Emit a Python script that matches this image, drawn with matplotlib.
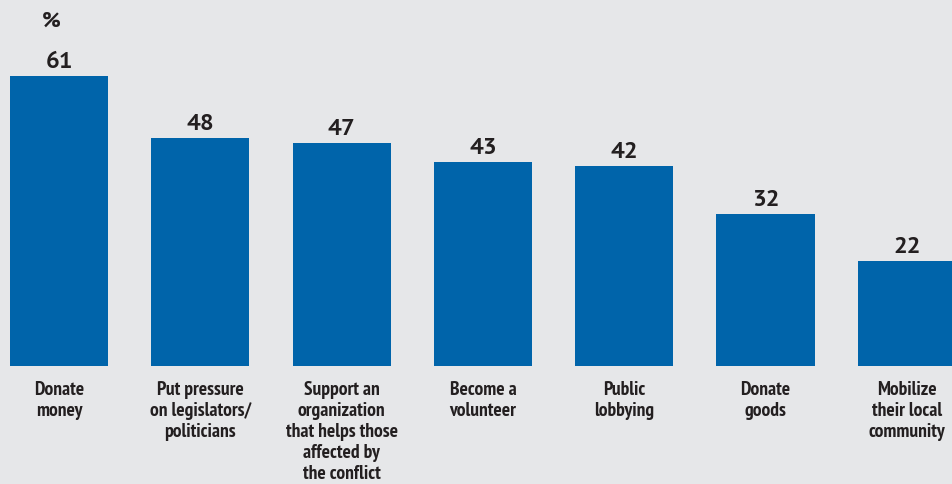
import matplotlib.pyplot as plt
import numpy as np

categories = [
    'Donate\nmoney',
    'Put pressure\non legislators/\npoliticians',
    'Support an\norganization\nthat helps those\naffected by\nthe conflict',
    'Become a\nvolunteer',
    'Public\nlobbying',
    'Donate\ngoods',
    'Mobilize\ntheir local\ncommunity',
]
values = [61, 48, 47, 43, 42, 32, 22]

bg = '#e6e7e9'
bar_color = '#0064aa'
ink = '#231f20'
num_font = ['PT Sans', 'DejaVu Sans']
cat_font = ['PT Sans Narrow', 'DejaVu Sans']

fig = plt.figure(figsize=(9.53, 4.84), dpi=100, facecolor=bg)
ax = fig.add_axes([0, 118 / 484, 1, 366 / 484])
ax.set_facecolor(bg)

x = np.arange(len(values))
ax.bar(x, values, width=0.694, color=bar_color)
ax.set_xlim(-0.4176, 6.327)
ax.set_ylim(0, 77.0)
ax.axis('off')

# value on top of each bar
for xi, v in zip(x, values):
    ax.annotate(str(v), (xi, v), xytext=(0, 5.8), textcoords='offset points',
                ha='center', va='baseline', fontsize=17.5, fontweight='bold',
                family=num_font, color=ink)

# category names under the bars
for xi, lab in zip(x, categories):
    ax.annotate(lab, (xi, 0), xytext=(0, -11), textcoords='offset points',
                ha='center', va='top', fontsize=14, fontweight='bold',
                family=cat_font, color=ink,
                linespacing=1.21, annotation_clip=False)

fig.text(51 / 953, 1 - 27 / 484, '%', ha='center', va='baseline', fontsize=16,
         fontweight='bold', family=num_font, color=ink)

fig.savefig('out.png', dpi=100, facecolor=bg)
